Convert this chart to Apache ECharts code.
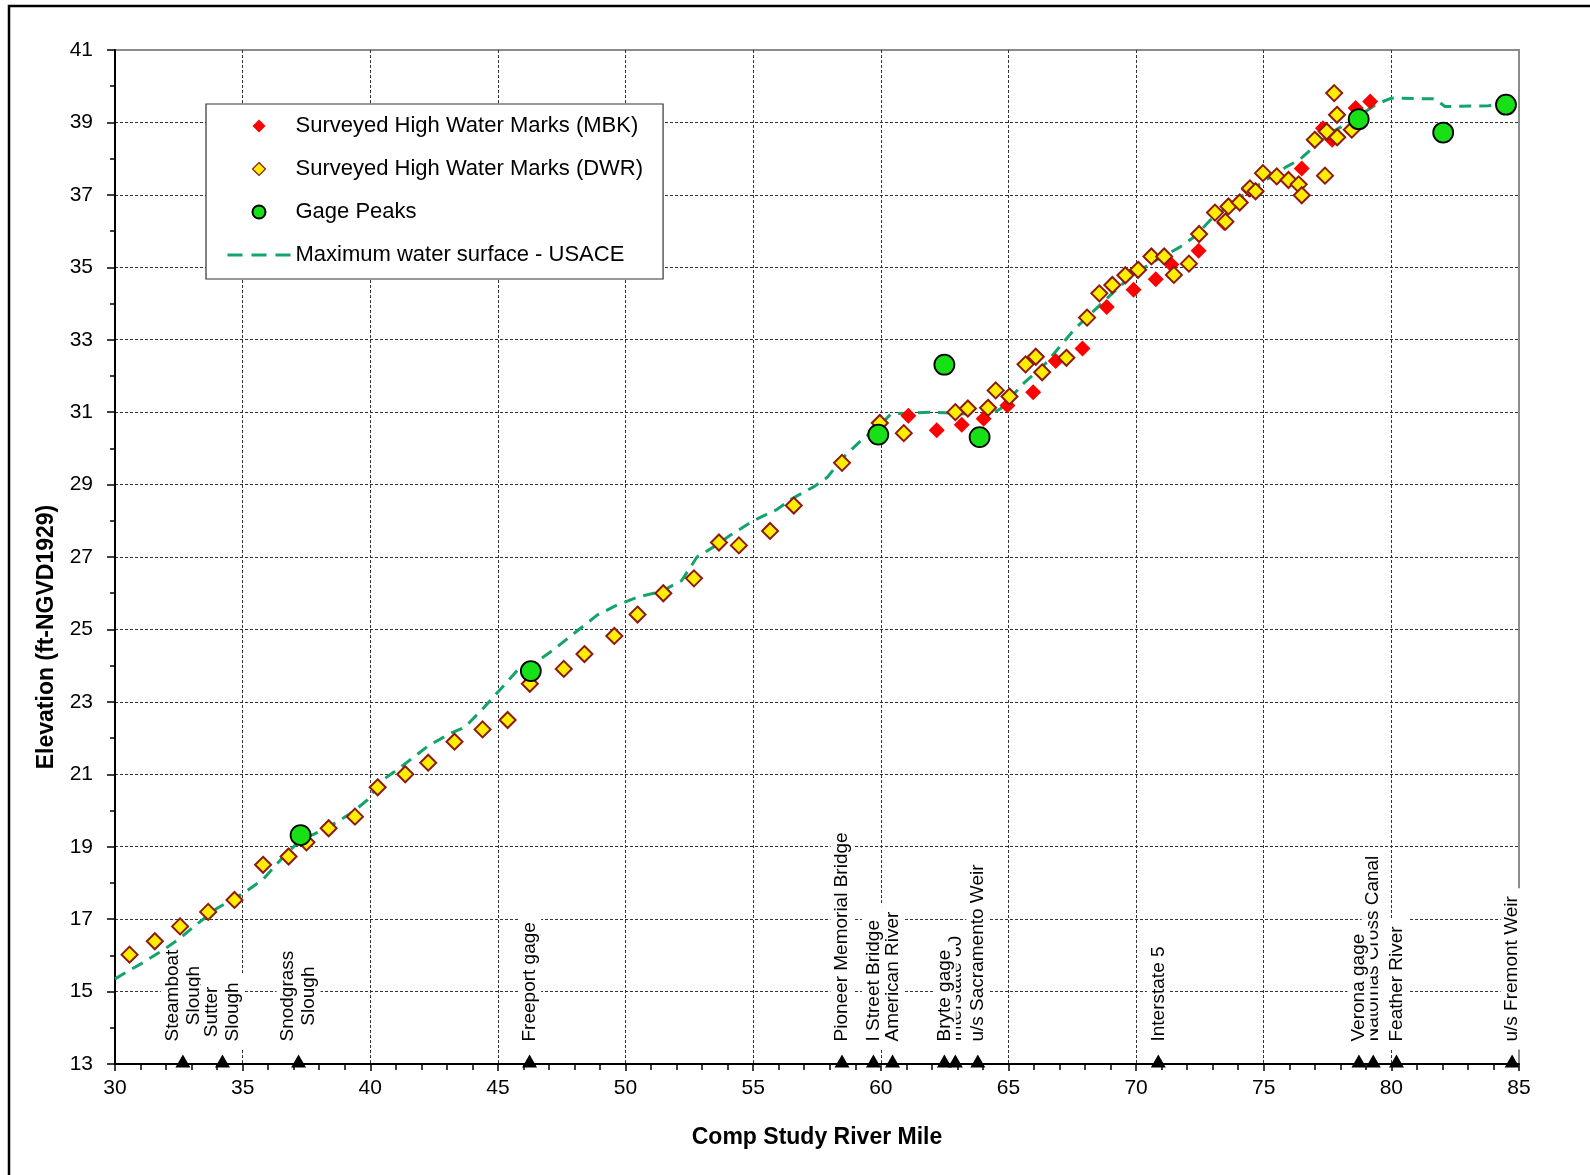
<!DOCTYPE html>
<html>
<head>
<meta charset="utf-8">
<script src="https://cdn.jsdelivr.net/npm/echarts@6/dist/echarts.min.js"></script>
<style>
html,body{margin:0;padding:0;background:#fff;}
#chart{width:1590px;height:1175px;}
</style>
</head>
<body>
<div id="chart"></div>
<script>
// ---- data ----
const mbkMile = [61.08, 62.19, 63.17, 64.03, 64.96, 65.97, 66.85, 67.9, 68.85, 69.9, 70.77, 71.38, 72.45, 73.45, 74.42, 76.49, 77.32, 77.68, 78.6, 79.17];
const mbkElev = [30.9, 30.5, 30.65, 30.82, 31.18, 31.55, 32.41, 32.76, 33.9, 34.38, 34.67, 35.08, 35.46, 36.22, 37.15, 37.73, 38.84, 38.52, 39.4, 39.58];

const dwrMile = [30.57, 31.56, 32.55, 33.65, 34.68, 35.8, 36.8, 37.5, 38.37, 39.4, 40.29, 41.37, 42.27, 43.3, 44.4, 45.38, 46.25, 47.58, 48.39, 49.56, 50.47, 51.48, 52.68, 53.66, 54.44, 55.66, 56.59, 58.48, 59.96, 60.9, 62.92, 63.41, 64.2, 64.5, 65.04, 65.67, 66.07, 66.32, 67.27, 68.08, 68.56, 69.07, 69.58, 70.08, 70.6, 71.1, 71.48, 72.07, 72.47, 73.09, 73.5, 73.62, 74.06, 74.46, 74.68, 74.97, 75.51, 75.97, 76.37, 76.49, 77.0, 77.4, 77.47, 77.76, 77.87, 77.88, 78.45];
const dwrElev = [16.02, 16.39, 16.8, 17.2, 17.53, 18.5, 18.73, 19.12, 19.51, 19.83, 20.64, 21.0, 21.32, 21.9, 22.24, 22.5, 23.5, 23.91, 24.32, 24.82, 25.41, 26.0, 26.41, 27.4, 27.32, 27.72, 28.42, 29.6, 30.7, 30.42, 31.0, 31.1, 31.12, 31.6, 31.43, 32.32, 32.53, 32.1, 32.5, 33.61, 34.28, 34.51, 34.78, 34.93, 35.3, 35.3, 34.79, 35.1, 35.92, 36.51, 36.26, 36.68, 36.79, 37.18, 37.1, 37.6, 37.51, 37.41, 37.29, 36.99, 38.52, 37.53, 38.75, 39.81, 39.21, 38.59, 38.8];

const gageMile = [37.27, 46.29, 59.9, 62.49, 63.87, 78.72, 82.03, 84.49];
const gageElev = [19.32, 23.85, 30.38, 32.31, 30.31, 39.09, 38.72, 39.49];

const usaceMile = [30.0, 30.6, 31.1, 32.0, 32.6, 33.1, 34.0, 35.0, 35.8, 36.7, 37.3, 37.8, 38.5, 39.3, 39.9, 40.4, 41.2, 42.3, 43.2, 43.7, 44.4, 45.1, 45.8, 46.5, 47.2, 48.0, 48.9, 49.6, 50.5, 51.4, 52.2, 52.8, 53.5, 54.1, 55.0, 55.9, 56.5, 57.4, 57.9, 58.6, 59.2, 59.9, 60.4, 61.9, 63.4, 64.0, 64.7, 65.6, 66.4, 67.0, 67.6, 68.2, 68.8, 69.4, 70.1, 70.8, 71.7, 72.3, 72.9, 74.1, 75.0, 75.9, 76.4, 77.0, 77.6, 78.5, 79.4, 80.0, 81.7, 82.1, 83.8, 84.5];
const usaceElev = [15.35, 15.6, 15.8, 16.2, 16.5, 16.8, 17.3, 17.7, 18.1, 18.8, 19.2, 19.35, 19.6, 19.95, 20.3, 20.8, 21.2, 21.8, 22.15, 22.3, 22.8, 23.35, 23.9, 24.1, 24.45, 24.9, 25.4, 25.65, 25.9, 26.05, 26.35, 27.0, 27.3, 27.6, 28.0, 28.3, 28.6, 28.95, 29.2, 29.8, 30.2, 30.6, 30.95, 31.0, 30.95, 30.8, 31.1, 31.8, 32.3, 32.8, 33.3, 33.7, 34.1, 34.5, 34.9, 35.2, 35.55, 35.85, 36.3, 36.95, 37.37, 37.78, 37.97, 38.34, 38.7, 39.07, 39.5, 39.67, 39.65, 39.44, 39.46, 39.49];

// landmarks along the river (triangles on the x axis); array order = drawing order
const landmarkMile = [84.73, 80.2, 79.29, 78.73, 70.87, 63.8, 62.92, 62.49, 60.46, 59.71, 58.48, 46.24, 37.19, 32.66, 34.21];
const landmarkName = ['u/s Fremont Weir', 'Feather River', 'Natomas Cross Canal', 'Verona gage', 'Interstate 5', 'u/s Sacramento Weir', 'Interstate 80', 'Bryte gage', 'American River', 'I Street Bridge', 'Pioneer Memorial Bridge', 'Freeport gage', 'Snodgrass\nSlough', 'Steamboat\nSlough', 'Sutter\nSlough'];

const yTickValues = [13, 15, 17, 19, 21, 23, 25, 27, 29, 31, 33, 35, 37, 39, 41];

const seriesNames = ['Surveyed High Water Marks (MBK)', 'Surveyed High Water Marks (DWR)', 'Gage Peaks', 'Maximum water surface - USACE'];

// ---- chart ----
const FONT = '"Liberation Sans", Arial, sans-serif';
const pairs = (xs, ys) => xs.map((x, i) => [x, ys[i]]);
// legend icon: a diamond centred in the 63x13 legend key box
const LEGEND_DIAMOND = 'path://M0,6.5L0.01,6.5M63,6.5L62.99,6.5M31.5,0L38,6.5L31.5,13L25,6.5Z';

const chart = echarts.init(document.getElementById('chart'), null, {renderer: 'canvas'});

const option = {
  animation: false,
  backgroundColor: '#ffffff',
  textStyle: {fontFamily: FONT},
  graphic: [{
    type: 'rect', silent: true, z: 100,
    shape: {x: 9, y: 6, width: 1620, height: 1220},
    style: {fill: 'none', stroke: '#000', lineWidth: 2.5}
  }],
  grid: {
    left: 115, right: 71, top: 50, bottom: 111,
    show: true, borderColor: '#8c8c8c', borderWidth: 2, backgroundColor: '#fff'
  },
  legend: {
    orient: 'vertical', left: 206, top: 104,
    padding: [11, 20, 13, 20],
    itemWidth: 63, itemHeight: 13, itemGap: 21,
    backgroundColor: '#fff', borderColor: '#333', borderWidth: 1.2,
    textStyle: {fontSize: 22, color: '#000', fontFamily: FONT},
    data: [
      {name: seriesNames[0], icon: LEGEND_DIAMOND},
      {name: seriesNames[1], icon: LEGEND_DIAMOND, itemStyle: {borderWidth: 1.2}},
      {name: seriesNames[2], icon: 'circle'},
      {name: seriesNames[3], lineStyle: {type: [15, 9], width: 3}, itemStyle: {opacity: 0}}
    ]
  },
  xAxis: {
    type: 'value', min: 30, max: 85, interval: 5,
    name: 'Comp Study River Mile', nameLocation: 'middle', nameGap: 62,
    nameTextStyle: {fontSize: 23, fontWeight: 'bold', color: '#000', fontFamily: FONT},
    axisLine: {onZero: false, lineStyle: {color: '#000', width: 2}},
    axisTick: {show: true, length: 7, lineStyle: {color: '#000', width: 1.5}},
    minorTick: {show: true, splitNumber: 5, length: 6, lineStyle: {color: '#000', width: 1.5}},
    axisLabel: {fontSize: 21, color: '#000', margin: 14, fontFamily: FONT},
    splitLine: {show: true, showMinLine: false, showMaxLine: false, lineStyle: {color: '#333', type: [3, 2], width: 1}},
    minorSplitLine: {show: false}
  },
  yAxis: [{
    type: 'value', min: 13, max: 41,
    name: 'Elevation (ft-NGVD1929)', nameLocation: 'middle', nameGap: 57,
    nameTextStyle: {fontSize: 23, fontWeight: 'bold', color: '#000', fontFamily: FONT, padding: [0, 160, 0, 0]},
    axisLine: {onZero: false, lineStyle: {color: '#000', width: 2}},
    axisTick: {show: true, length: 8, customValues: yTickValues, lineStyle: {color: '#000', width: 1.5}},
    axisLabel: {fontSize: 21, color: '#000', margin: 22, fontFamily: FONT, customValues: yTickValues},
    splitLine: {show: true, showMinLine: false, showMaxLine: false, lineStyle: {color: '#333', type: [3, 2], width: 1}}
  }, {
    type: 'value', min: 13, max: 41, interval: 1, position: 'left',
    axisLine: {show: false},
    axisTick: {show: true, length: 5, lineStyle: {color: '#000', width: 1.5}},
    axisLabel: {show: false},
    splitLine: {show: false}
  }],
  series: [
    {
      name: seriesNames[3], type: 'line', z: 2,
      data: pairs(usaceMile, usaceElev),
      symbol: 'none', showSymbol: false,
      lineStyle: {color: '#12a46a', width: 3, type: [12, 8]},
      itemStyle: {color: '#12a46a'}
    },
    {
      name: seriesNames[0], type: 'scatter', z: 3,
      data: pairs(mbkMile, mbkElev),
      symbol: 'diamond', symbolSize: 16,
      itemStyle: {color: '#ff0000', opacity: 1}
    },
    {
      name: seriesNames[1], type: 'scatter', z: 4,
      data: pairs(dwrMile, dwrElev),
      symbol: 'diamond', symbolSize: 16,
      itemStyle: {color: '#ffee00', borderColor: '#8b1a10', borderWidth: 2, opacity: 1}
    },
    {
      name: seriesNames[2], type: 'scatter', z: 5,
      data: pairs(gageMile, gageElev),
      symbol: 'circle', symbolSize: 20,
      itemStyle: {color: '#17e017', borderColor: '#000', borderWidth: 1.8, opacity: 1}
    },
    {
      name: 'Landmarks', type: 'scatter', z: 1, clip: false,
      data: landmarkMile.map((m, i) => ({value: [m, 13], name: landmarkName[i]})),
      symbol: 'triangle', symbolSize: [15, 13], symbolOffset: [0, -3],
      itemStyle: {color: '#000', opacity: 1},
      label: {
        show: true, position: 'top', distance: 5, rotate: 90,
        align: 'left', verticalAlign: 'middle',
        backgroundColor: '#fff', padding: [1, 8, 1, 8],
        formatter: p => p.name.split('\n').map(s => '{c|' + s + '}').join('\n'),
        rich: {c: {align: 'center', fontSize: 19, lineHeight: 21, color: '#000', fontFamily: FONT}}
      },
      emphasis: {disabled: true}
    }
  ]
};
chart.setOption(option);
</script>
</body>
</html>
